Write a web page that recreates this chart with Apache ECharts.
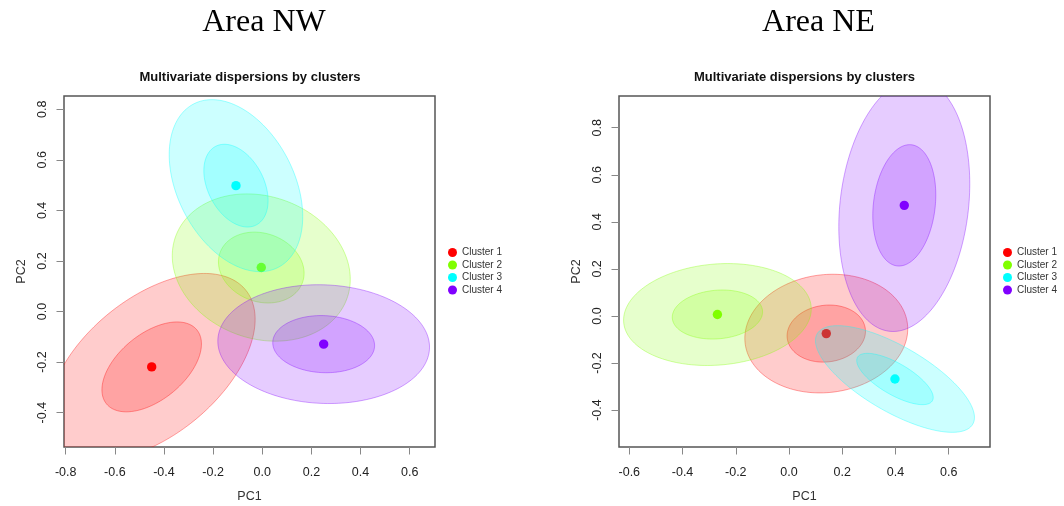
<!DOCTYPE html>
<html>
<head>
<meta charset="utf-8">
<title>Multivariate dispersions by clusters</title>
<script src="https://cdn.jsdelivr.net/npm/echarts@6/dist/echarts.min.js"></script>
<style>
  html, body { margin: 0; padding: 0; background: #ffffff; }
  #chart { width: 1064px; height: 506px; }
</style>
</head>
<body>
<div id="chart"></div>
<script>
// Cluster labels and colours (rainbow palette)
const clusterNames = ['Cluster 1', 'Cluster 2', 'Cluster 3', 'Cluster 4'];
const clusterColors = ['#FF0000', '#80FF00', '#00FFFF', '#8000FF'];

// Tick positions
const nwXTicks = [-0.8, -0.6, -0.4, -0.2, 0.0, 0.2, 0.4, 0.6];
const nwYTicks = [-0.4, -0.2, 0.0, 0.2, 0.4, 0.6, 0.8];
const neXTicks = [-0.6, -0.4, -0.2, 0.0, 0.2, 0.4, 0.6];
const neYTicks = [-0.4, -0.2, 0.0, 0.2, 0.4, 0.6, 0.8];

// Area NW: cluster centroids on PC1/PC2, spread (sd) and correlation
const nwCenterX = [-0.450, -0.004, -0.107, 0.250];
const nwCenterY = [-0.219, 0.174, 0.498, -0.129];
const nwSdX = [0.172, 0.148, 0.111, 0.176];
const nwSdY = [0.151, 0.119, 0.139, 0.096];
const nwCorr = [0.51, -0.16, -0.36, -0.05];

// Area NE
const neCenterX = [0.140, -0.269, 0.398, 0.433];
const neCenterY = [-0.075, 0.006, -0.268, 0.470];
const neSdX = [0.125, 0.144, 0.122, 0.1005];
const neSdY = [0.103, 0.0885, 0.0926, 0.219];
const neCorr = [0.08, 0.11, -0.72, 0.17];

// Confidence levels of the drawn ellipses (outer first)
const ellipseLevels = [0.95, 0.5];

const SANS = 'Liberation Sans, Arial, Helvetica, sans-serif';
const SERIF = 'Liberation Serif, Times New Roman, serif';

function rgba(hex, a) {
  const n = parseInt(hex.slice(1), 16);
  return 'rgba(' + ((n >> 16) & 255) + ',' + ((n >> 8) & 255) + ',' + (n & 255) + ',' + a + ')';
}

// Radius multiplier for a bivariate normal confidence region (chi-square, 2 df)
function levelRadius(level) {
  return Math.sqrt(-2 * Math.log(1 - level));
}

function clusterSeries(panel, i, cx, cy, sdx, sdy, rho) {
  const col = clusterColors[i];
  return {
    type: 'custom',
    name: clusterNames[i],
    xAxisIndex: panel,
    yAxisIndex: panel,
    silent: true,
    itemStyle: { color: col },
    encode: { x: 0, y: 1 },
    data: [[cx[i], cy[i], sdx[i], sdy[i], rho[i]]],
    renderItem: function (params, api) {
      const mx = api.value(0), my = api.value(1);
      const sx = api.value(2), sy = api.value(3), r = api.value(4);
      const q = Math.sqrt(1 - r * r);
      const children = ellipseLevels.map(function (level) {
        const k = levelRadius(level);
        const pts = [];
        const steps = 180;
        for (let s = 0; s < steps; s++) {
          const t = 2 * Math.PI * s / steps;
          const dx = k * sx * Math.cos(t);
          const dy = k * sy * (r * Math.cos(t) + q * Math.sin(t));
          pts.push(api.coord([mx + dx, my + dy]));
        }
        return {
          type: 'polygon',
          shape: { points: pts },
          style: { fill: rgba(col, 0.2), stroke: rgba(col, 0.35), lineWidth: 1 }
        };
      });
      const c = api.coord([mx, my]);
      children.push({
        type: 'circle',
        shape: { cx: c[0], cy: c[1], r: 4.7 },
        style: { fill: col }
      });
      const cs = params.coordSys;
      return {
        type: 'group',
        clipPath: { type: 'rect', shape: { x: cs.x, y: cs.y, width: cs.width, height: cs.height } },
        children: children
      };
    }
  };
}

function xAxisFor(gridIndex, min, max, ticks) {
  return {
    type: 'value', gridIndex: gridIndex, min: min, max: max, position: 'bottom',
    name: 'PC1', nameLocation: 'middle', nameGap: 43,
    nameTextStyle: { fontFamily: SANS, fontSize: 12.5, color: '#333', lineHeight: 13 },
    axisLine: { show: false, onZero: false },
    splitLine: { show: false },
    axisTick: { show: true, customValues: ticks, length: 7.5, lineStyle: { color: '#888', width: 1 } },
    axisLabel: {
      customValues: ticks, margin: 19, fontFamily: SANS, fontSize: 12.5, color: '#222', lineHeight: 13,
      formatter: function (v) { return v.toFixed(1); }
    }
  };
}

function yAxisFor(gridIndex, min, max, ticks) {
  return {
    type: 'value', gridIndex: gridIndex, min: min, max: max, position: 'left',
    name: 'PC2', nameLocation: 'middle', nameGap: 36, nameRotate: 90,
    nameTextStyle: { fontFamily: SANS, fontSize: 12.5, color: '#333', lineHeight: 13 },
    axisLine: { show: false, onZero: false },
    splitLine: { show: false },
    axisTick: { show: true, customValues: ticks, length: 7.5, lineStyle: { color: '#888', width: 1 } },
    axisLabel: {
      customValues: ticks, margin: 15, rotate: 90, fontFamily: SANS, fontSize: 12.5, color: '#222', lineHeight: 13,
      formatter: function (v) { return v.toFixed(1); }
    }
  };
}

function legendFor(left) {
  return {
    data: clusterNames, orient: 'vertical', left: left, top: 246.5, padding: 0,
    icon: 'circle', itemWidth: 9, itemHeight: 9, itemGap: 0.5, selectedMode: false,
    textStyle: { fontFamily: SANS, fontSize: 10, lineHeight: 12, color: '#333' }
  };
}

function gridAt(left) {
  return {
    left: left, top: 96, width: 371, height: 351,
    outerBoundsMode: 'none', containLabel: false,
    show: true, borderColor: '#555', borderWidth: 1.5, backgroundColor: 'transparent'
  };
}

const series = [];
for (let i = 0; i < clusterNames.length; i++) {
  series.push(clusterSeries(0, i, nwCenterX, nwCenterY, nwSdX, nwSdY, nwCorr));
}
for (let i = 0; i < clusterNames.length; i++) {
  series.push(clusterSeries(1, i, neCenterX, neCenterY, neSdX, neSdY, neCorr));
}

const option = {
  animation: false,
  backgroundColor: '#ffffff',
  title: [
    { text: 'Area NW', left: 264, top: 7, padding: 0, textAlign: 'center',
      textStyle: { fontFamily: SERIF, fontSize: 32, fontWeight: 'normal', color: '#000' } },
    { text: 'Area NE', left: 818.5, top: 7, padding: 0, textAlign: 'center',
      textStyle: { fontFamily: SERIF, fontSize: 32, fontWeight: 'normal', color: '#000' } },
    { text: 'Multivariate dispersions by clusters', left: 250, top: 70.5, padding: 0, textAlign: 'center',
      textStyle: { fontFamily: SANS, fontSize: 13, fontWeight: 'bold', color: '#111' } },
    { text: 'Multivariate dispersions by clusters', left: 804.5, top: 70.5, padding: 0, textAlign: 'center',
      textStyle: { fontFamily: SANS, fontSize: 13, fontWeight: 'bold', color: '#111' } }
  ],
  legend: [legendFor(448), legendFor(1003)],
  grid: [gridAt(64), gridAt(619)],
  xAxis: [
    xAxisFor(0, -0.8069, 0.7031, nwXTicks),
    xAxisFor(1, -0.6387, 0.7550, neXTicks)
  ],
  yAxis: [
    yAxisFor(0, -0.5359, 0.8526, nwYTicks),
    yAxisFor(1, -0.5570, 0.9347, neYTicks)
  ],
  series: series
};

const chart = echarts.init(document.getElementById('chart'), null, { renderer: 'canvas' });
chart.setOption(option);
</script>
</body>
</html>
